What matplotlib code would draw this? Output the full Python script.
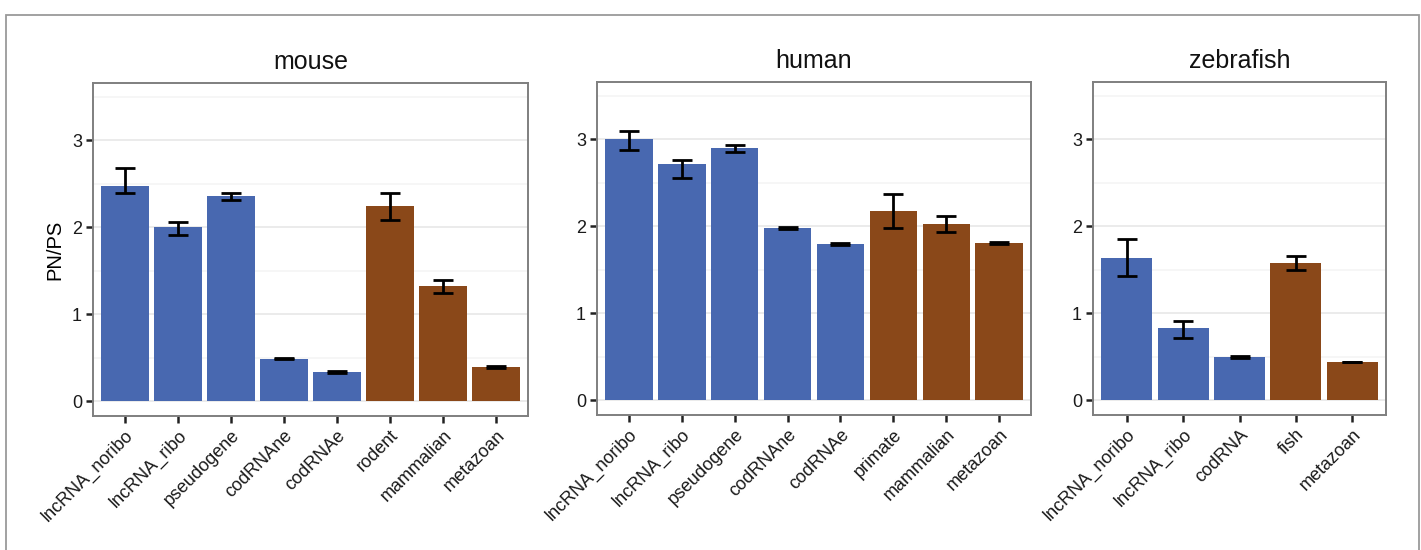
import matplotlib
matplotlib.use("Agg")
import matplotlib.pyplot as plt
from matplotlib.patches import Rectangle

plt.rcParams['font.family'] = ['Liberation Sans', 'DejaVu Sans']

BLUE = '#4868B0'
BROWN = '#8A4819'

# mouse
mouse_cats = ['lncRNA_noribo', 'lncRNA_ribo', 'pseudogene', 'codRNAne', 'codRNAe',
              'rodent', 'mammalian', 'metazoan']
mouse_vals = [2.47, 2.00, 2.36, 0.49, 0.34, 2.25, 1.32, 0.39]
mouse_lo = [2.40, 1.91, 2.32, 0.48, 0.33, 2.08, 1.25, 0.38]
mouse_hi = [2.68, 2.06, 2.39, 0.50, 0.35, 2.39, 1.39, 0.40]
mouse_group = ['rna'] * 5 + ['age'] * 3

# human
human_cats = ['lncRNA_noribo', 'lncRNA_ribo', 'pseudogene', 'codRNAne', 'codRNAe',
              'primate', 'mammalian', 'metazoan']
human_vals = [3.00, 2.72, 2.90, 1.98, 1.80, 2.18, 2.03, 1.81]
human_lo = [2.88, 2.56, 2.86, 1.97, 1.79, 1.98, 1.94, 1.80]
human_hi = [3.10, 2.76, 2.94, 1.99, 1.81, 2.37, 2.12, 1.82]
human_group = ['rna'] * 5 + ['age'] * 3

# zebrafish
zf_cats = ['lncRNA_noribo', 'lncRNA_ribo', 'codRNA', 'fish', 'metazoan']
zf_vals = [1.64, 0.83, 0.50, 1.58, 0.44]
zf_lo = [1.43, 0.72, 0.49, 1.50, 0.435]
zf_hi = [1.85, 0.91, 0.51, 1.66, 0.445]
zf_group = ['rna'] * 3 + ['age'] * 2

W, H = 1421, 550
fig = plt.figure(figsize=(W / 100, H / 100), dpi=100)

# outer frame
fig.patches.append(Rectangle((6 / W, -0.05), (1419 - 6) / W, 1.05 - 15 / H,
                             transform=fig.transFigure, fill=False,
                             edgecolor='#9a9a9a', linewidth=1.3))

panels = [
    ('mouse', mouse_cats, mouse_vals, mouse_lo, mouse_hi, mouse_group, (93, 528, 83, 416)),
    ('human', human_cats, human_vals, human_lo, human_hi, human_group, (597, 1031, 82, 415)),
    ('zebrafish', zf_cats, zf_vals, zf_lo, zf_hi, zf_group, (1093, 1386, 82, 415)),
]

for i, (title, cats, vals, lo, hi, grp, box) in enumerate(panels):
    l, r, t, b = box
    ax = fig.add_axes([l / W, 1 - b / H, (r - l) / W, (b - t) / H])
    x = list(range(1, len(cats) + 1))
    colors = [BLUE if g == 'rna' else BROWN for g in grp]
    ax.bar(x, vals, width=0.9, color=colors, zorder=2)
    yerr = [[v - a for v, a in zip(vals, lo)], [c - v for v, c in zip(vals, hi)]]
    ax.errorbar(x, vals, yerr=yerr, fmt='none', ecolor='black', elinewidth=2.0,
                capsize=7, capthick=2.0, zorder=3)
    ax.set_xlim(0.4, len(cats) + 0.6)
    ax.set_ylim(-0.17, 3.66)
    ax.set_yticks([0, 1, 2, 3])
    ax.set_yticks([0.5, 1.5, 2.5, 3.5], minor=True)
    ax.yaxis.grid(True, which='major', color='#e6e6e6', linewidth=1.1, zorder=0)
    ax.yaxis.grid(True, which='minor', color='#f4f4f4', linewidth=1.1, zorder=0)
    ax.set_axisbelow(True)
    ax.tick_params(axis='y', which='minor', length=0)
    ax.tick_params(axis='both', which='major', length=5, width=1.8, color='#222222',
                   labelsize=13, labelcolor='#1a1a1a', pad=3)
    ax.set_xticks(x)
    ax.set_xticklabels(cats, rotation=45, ha='right', rotation_mode='anchor')
    for s in ax.spines.values():
        s.set_color('#7f7f7f')
        s.set_linewidth(1.4)
    ax.set_title(title, fontsize=18, pad=10, color='#111111')
    if i == 0:
        ax.set_ylabel('PN/PS', fontsize=14.5, labelpad=5)

fig.savefig('out.png', dpi=100)
